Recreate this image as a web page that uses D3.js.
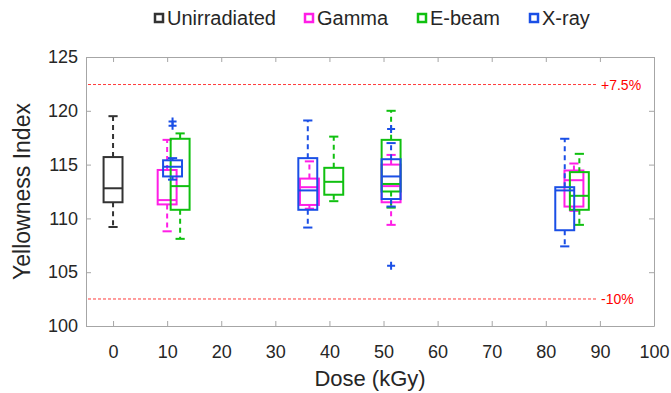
<!DOCTYPE html>
<html>
<head>
<meta charset="utf-8">
<script src="https://cdn.jsdelivr.net/npm/d3@7"></script>
<style>
  body { margin: 0; background: #fff; }
  svg { font-family: "Liberation Sans", Arial, sans-serif; }
</style>
</head>
<body>
<div id="chart"></div>
<script>
// series names and colours
const seriesNames = ['Unirradiated', 'Gamma', 'E-beam', 'X-ray'];
const seriesColors = ['#333333', '#ff1ee6', '#10c010', '#1a4fe6'];

// box stats per series: dose position, lower whisker, q1, median, q3, upper whisker, outliers
const unirrDose = [0];
const unirrLow = [109.2];
const unirrQ1 = [111.5];
const unirrMed = [112.8];
const unirrQ3 = [115.7];
const unirrHigh = [119.5];
const unirrOut = [[]];

const gammaDose = [10.0, 36.3, 51.4, 85.2];
const gammaLow = [108.8, 110.9, 109.4, 110.7];
const gammaQ1 = [111.3, 111.25, 111.5, 111.1];
const gammaMed = [111.7, 112.9, 113.0, 113.55];
const gammaQ3 = [114.5, 113.7, 115.0, 114.45];
const gammaHigh = [117.3, 115.3, 115.9, 115.1];
const gammaOut = [[], [], [], []];

const ebeamDose = [12.4, 40.8, 51.4, 86.2];
const ebeamLow = [108.1, 111.6, 111.0, 109.4];
const ebeamQ1 = [110.8, 112.2, 112.5, 110.8];
const ebeamMed = [113.0, 113.4, 113.2, 112.1];
const ebeamQ3 = [117.4, 114.7, 117.3, 114.3];
const ebeamHigh = [117.9, 117.6, 120.0, 116.0];
const ebeamOut = [[], [], [], []];

const xrayDose = [11.0, 36.0, 51.4, 83.5];
const xrayLow = [113.6, 109.15, 111.1, 107.4];
const xrayQ1 = [113.9, 110.8, 111.8, 108.9];
const xrayMed = [114.8, 112.6, 113.9, 112.6];
const xrayQ3 = [115.4, 115.6, 115.5, 112.9];
const xrayHigh = [115.6, 119.1, 117.0, 117.4];
const xrayOut = [[118.6, 119.0], [], [118.3, 105.6], []];

// reference limits
const refBase = 113.9;
const refPct = [7.5, -10];
const refLabels = ['+7.5%', '-10%'];

const xTicks = [0, 10, 20, 30, 40, 50, 60, 70, 80, 90, 100];
const yTicks = [100, 105, 110, 115, 120, 125];

const W = 671, H = 393;
const plot = { left: 86, right: 654, top: 57, bottom: 326 };

const svg = d3.select('#chart').append('svg')
  .attr('width', W)
  .attr('height', H);

const x = d3.scaleLinear().domain([-5, 100]).range([plot.left, plot.right]);
const y = d3.scaleLinear().domain([100, 125]).range([plot.bottom, plot.top]);

const axisColor = '#a6a6a6';
const textColor = '#262626';

// axes (box on, ticks pointing in)
svg.append('g')
  .attr('transform', `translate(0,${plot.bottom})`)
  .call(d3.axisBottom(x).tickValues(xTicks).tickSizeInner(-5).tickSizeOuter(0).tickPadding(19))
  .call(g => g.selectAll('text').attr('font-size', 18).attr('fill', textColor));

svg.append('g')
  .attr('transform', `translate(0,${plot.top})`)
  .call(d3.axisTop(x).tickValues(xTicks).tickSizeInner(-5).tickSizeOuter(0).tickFormat(''));

svg.append('g')
  .attr('transform', `translate(${plot.left},0)`)
  .call(d3.axisLeft(y).tickValues(yTicks).tickSizeInner(-5).tickSizeOuter(0).tickPadding(8))
  .call(g => g.selectAll('text').attr('font-size', 18).attr('fill', textColor));

svg.append('g')
  .attr('transform', `translate(${plot.right},0)`)
  .call(d3.axisRight(y).tickValues(yTicks).tickSizeInner(-5).tickSizeOuter(0).tickFormat(''));

svg.selectAll('.domain').attr('stroke', axisColor);
svg.selectAll('.tick line').attr('stroke', axisColor);
svg.selectAll('.tick text').attr('font-family', '"Liberation Sans", Arial, sans-serif');

// axis titles
svg.append('text')
  .attr('x', (plot.left + plot.right) / 2)
  .attr('y', 386)
  .attr('text-anchor', 'middle')
  .attr('font-size', 22)
  .attr('fill', textColor)
  .text('Dose (kGy)');

svg.append('text')
  .attr('transform', `translate(30,${(plot.top + plot.bottom) / 2}) rotate(-90)`)
  .attr('text-anchor', 'middle')
  .attr('font-size', 23)
  .attr('fill', textColor)
  .text('Yellowness Index');

// reference lines
refPct.forEach((p, i) => {
  const v = refBase * (1 + p / 100);
  svg.append('line')
    .attr('x1', plot.left + 2)
    .attr('x2', 598)
    .attr('y1', y(v))
    .attr('y2', y(v))
    .attr('stroke', '#ff3b3b')
    .attr('stroke-width', 1)
    .attr('stroke-dasharray', '3,2');
  svg.append('text')
    .attr('x', 601)
    .attr('y', y(v) + 5)
    .attr('font-size', 14)
    .attr('fill', '#ff0000')
    .text(refLabels[i]);
});

// boxes
const boxW = 3.5;   // kGy
const capW = 1.7;
const groups = [
  [unirrDose, unirrLow, unirrQ1, unirrMed, unirrQ3, unirrHigh, unirrOut],
  [gammaDose, gammaLow, gammaQ1, gammaMed, gammaQ3, gammaHigh, gammaOut],
  [ebeamDose, ebeamLow, ebeamQ1, ebeamMed, ebeamQ3, ebeamHigh, ebeamOut],
  [xrayDose, xrayLow, xrayQ1, xrayMed, xrayQ3, xrayHigh, xrayOut]
];

groups.forEach((s, si) => {
  const [dose, low, q1, med, q3, high, out] = s;
  const col = seriesColors[si];
  const g = svg.append('g').attr('stroke', col).attr('fill', 'none').attr('stroke-width', 2);
  dose.forEach((d, i) => {
    const cx = x(d);
    // whiskers
    g.append('line').attr('x1', cx).attr('x2', cx).attr('y1', y(q3[i])).attr('y2', y(high[i]))
      .attr('stroke-dasharray', '5,4');
    g.append('line').attr('x1', cx).attr('x2', cx).attr('y1', y(q1[i])).attr('y2', y(low[i]))
      .attr('stroke-dasharray', '5,4');
    g.append('line').attr('x1', x(d - capW / 2)).attr('x2', x(d + capW / 2)).attr('y1', y(high[i])).attr('y2', y(high[i]));
    g.append('line').attr('x1', x(d - capW / 2)).attr('x2', x(d + capW / 2)).attr('y1', y(low[i])).attr('y2', y(low[i]));
    // box
    g.append('rect')
      .attr('x', x(d - boxW / 2))
      .attr('width', x(d + boxW / 2) - x(d - boxW / 2))
      .attr('y', y(q3[i]))
      .attr('height', y(q1[i]) - y(q3[i]));
    g.append('line').attr('x1', x(d - boxW / 2)).attr('x2', x(d + boxW / 2)).attr('y1', y(med[i])).attr('y2', y(med[i]));
    // outliers
    out[i].forEach(v => {
      g.append('path')
        .attr('d', `M${cx - 4},${y(v)}H${cx + 4}M${cx},${y(v) - 4}V${y(v) + 4}`);
    });
  });
});

// legend
const legendX = [155, 305, 418, 530];
seriesNames.forEach((n, i) => {
  svg.append('rect')
    .attr('x', legendX[i])
    .attr('y', 14)
    .attr('width', 8)
    .attr('height', 8)
    .attr('fill', '#fff')
    .attr('stroke', seriesColors[i])
    .attr('stroke-width', 2.5);
  svg.append('text')
    .attr('x', legendX[i] + 12)
    .attr('y', 25)
    .attr('font-size', 20)
    .attr('fill', textColor)
    .text(n);
});
</script>
</body>
</html>
